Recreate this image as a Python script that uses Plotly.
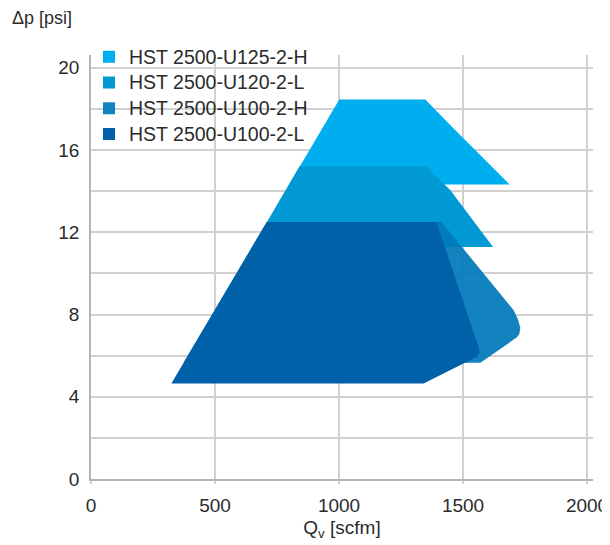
import plotly.graph_objects as go

# ---------------- data ----------------
series_names = ["HST 2500-U125-2-H", "HST 2500-U120-2-L",
                "HST 2500-U100-2-H", "HST 2500-U100-2-L"]

# flow Q_v [scfm] / pressure drop dp [psi] outlines of each operating range
u125_2h_q = [799, 1001, 1348, 1456, 1688]
u125_2h_dp = [14.32, 18.45, 18.45, 17.12, 14.32]

u120_2l_q = [650, 841, 1351, 1449, 1621]
u120_2l_dp = [11.28, 15.21, 15.21, 14.04, 11.28]

u100_2h_q = [373, 709, 1413, 1704, 1722, 1731, 1727, 1716, 1570]
u100_2h_dp = [5.65, 12.5, 12.5, 8.21, 7.75, 7.35, 7.05, 6.88, 5.65]

u100_2l_q = [324, 709, 1392, 1563, 1567, 1556, 1341]
u100_2l_dp = [4.65, 12.5, 12.5, 6.42, 6.16, 5.94, 4.65]

x_tick_vals = [0, 500, 1000, 1500, 2000]
x_tick_labels = ["0", "500", "1000", "1500", "2000"]
y_tick_vals = [0, 4, 8, 12, 16, 20]
y_tick_labels = ["0", "4", "8", "12", "16", "20"]
y_minor_grid = [2, 6, 10, 14, 18]

# ---------------- styling ----------------
colors = ["#00AEEF", "#0099D4", "rgba(0,122,185,0.93)", "#0061A9"]
FONT = "Liberation Sans, Arial, sans-serif"
TXT = "#2b2b2b"
GRID = "#d0d0d0"
AXIS = "#b4b4b4"

series = [(u125_2h_q, u125_2h_dp), (u120_2l_q, u120_2l_dp),
          (u100_2h_q, u100_2h_dp), (u100_2l_q, u100_2l_dp)]

fig = go.Figure()
for name, (q, dp), c in zip(series_names, series, colors):
    fig.add_trace(go.Scatter(
        x=q, y=dp, fill="toself", mode="lines", line=dict(width=0),
        fillcolor=c, name=name, legendgroup=name, showlegend=False,
        hoverinfo="skip"))
for name, c in zip(series_names, colors):
    fig.add_trace(go.Scatter(
        x=[None], y=[None], mode="markers", name=
        f'<span style="font-size:19.5px">{name}</span>',
        legendgroup=name,
        marker=dict(symbol="square", size=12, color=c, line=dict(width=0))))

fig.update_layout(
    template="none",
    width=602, height=537,
    margin=dict(l=83, r=17, t=47, b=66),
    paper_bgcolor="white", plot_bgcolor="white",
    font=dict(family=FONT, color=TXT, size=19),
    showlegend=True,
    legend=dict(x=-0.004, xanchor="left", y=1.038, yanchor="top",
                bgcolor="rgba(0,0,0,0)", borderwidth=0,
                font=dict(family=FONT, size=17.5, color=TXT),
                traceorder="normal"),
    xaxis=dict(range=[0, 2024], tickvals=x_tick_vals, ticktext=x_tick_labels,
               showgrid=True, gridcolor=GRID, gridwidth=1.5,
               showline=True, linecolor=AXIS, linewidth=1.5,
               ticks="outside", ticklen=3, tickcolor=GRID, tickwidth=1.5,
               zeroline=False, automargin=False,
               tickfont=dict(family=FONT, size=19, color=TXT),
               ticklabelstandoff=5,
               title=dict(text="Q<sub>v</sub> [scfm]", standoff=6,
                          font=dict(family=FONT, size=19, color=TXT))),
    yaxis=dict(range=[0, 20.62], tickvals=y_tick_vals, ticktext=y_tick_labels,
               showgrid=True, gridcolor=GRID, gridwidth=1.5,
               minor=dict(tickvals=y_minor_grid, showgrid=True,
                          gridcolor=GRID, gridwidth=1.5, ticks=""),
               showline=True, linecolor=AXIS, linewidth=1.5,
               ticks="", zeroline=False, automargin=False,
               tickfont=dict(family=FONT, size=19, color=TXT),
               ticklabelstandoff=6),
    shapes=[dict(type="rect", xref="paper", yref="paper", layer="between",
                 x0=0.0125, x1=0.437, y0=0.788, y1=1.0,
                 fillcolor="white", line=dict(width=0))],
    annotations=[dict(text="Δp [psi]", xref="paper", yref="paper",
                      x=-0.161, y=1.087, xanchor="left", yanchor="middle",
                      showarrow=False,
                      font=dict(family=FONT, size=18, color=TXT))],
)

fig.write_html("out.html")
